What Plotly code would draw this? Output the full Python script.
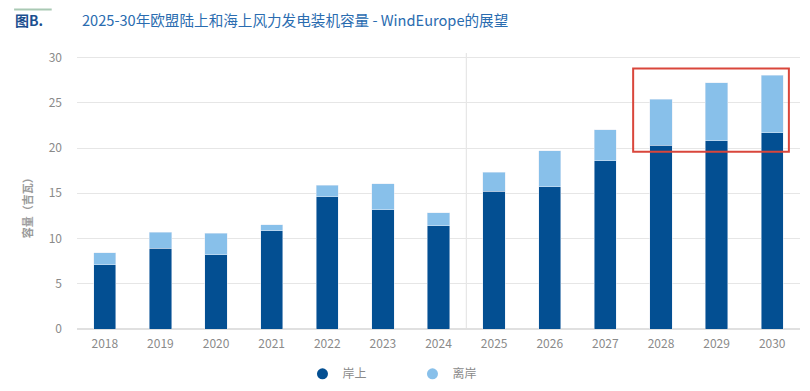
import plotly.graph_objects as go

years = ["2018", "2019", "2020", "2021", "2022", "2023", "2024",
         "2025", "2026", "2027", "2028", "2029", "2030"]
onshore = [7.1, 8.9, 8.2, 10.85, 14.6, 13.2, 11.4, 15.2, 15.7, 18.6, 20.3, 20.8, 21.7]
total = [8.4, 10.7, 10.6, 11.5, 15.9, 16.05, 12.85, 17.3, 19.7, 22.0, 25.4, 27.2, 28.05]
offshore = [round(t - o, 2) for t, o in zip(total, onshore)]
y_ticks = [0, 5, 10, 15, 20, 25, 30]

DARK = "#034f92"
LIGHT = "#88c0ea"
GRAY = "#8a8a8a"
FONT = "Noto Sans CJK SC"

fig = go.Figure()
fig.add_trace(go.Bar(x=years, y=onshore, name="岸上", marker_color=DARK,
                     width=0.4, showlegend=False))
fig.add_trace(go.Bar(x=years, y=offshore, name="离岸", marker_color=LIGHT,
                     width=0.4, showlegend=False))
# legend entries with circle markers
fig.add_trace(go.Scatter(x=[None], y=[None], mode="markers", name="岸上",
                         marker=dict(color=DARK, size=11, symbol="circle")))
fig.add_trace(go.Scatter(x=[None], y=[None], mode="markers", name="离岸",
                         marker=dict(color=LIGHT, size=11, symbol="circle")))

# separator between history and outlook
fig.add_shape(type="line", xref="x", yref="paper", x0=6.5, x1=6.5, y0=0, y1=1,
              line=dict(color="#e2e2e2", width=1), layer="below")
# red highlight box
fig.add_shape(type="rect", xref="x", yref="y", x0=9.5, x1=12.3, y0=19.6, y1=28.8,
              line=dict(color="#d9463b", width=2))
# top decorative line
fig.add_shape(type="line", xref="paper", yref="paper", x0=-0.087, x1=-0.035,
              y0=1.158, y1=1.158, line=dict(color="#a9c9b4", width=2))

fig.add_annotation(xref="paper", yref="paper", x=-0.089, y=1.121, xanchor="left",
                   yanchor="middle", showarrow=False,
                   text="<b>图B.</b>", font=dict(family=FONT, size=14, color="#1b4f8f"))
fig.add_annotation(xref="paper", yref="paper", x=0.004, y=1.121, xanchor="left",
                   yanchor="middle", showarrow=False,
                   text="2025-30年欧盟陆上和海上风力发电装机容量 - WindEurope的展望",
                   font=dict(family=FONT, size=14.6, color="#2a6cb0"))
fig.add_annotation(xref="paper", yref="paper", x=-0.068, y=0.448, xanchor="center",
                   yanchor="middle", showarrow=False, textangle=-90,
                   text="<b>容量（吉瓦）</b>", font=dict(family=FONT, size=11, color="#9a9a9a"))

fig.update_layout(
    width=802, height=383,
    barmode="stack",
    plot_bgcolor="white", paper_bgcolor="white",
    margin=dict(l=69, r=10, t=44.5, b=62.3, autoexpand=False),
    font=dict(family=FONT, color=GRAY, size=12),
    legend=dict(orientation="h", x=0.464, xanchor="center", yref="container",
                y=0.045, yanchor="middle", traceorder="normal",
                font=dict(size=12, color=GRAY), entrywidth=65),
    xaxis=dict(range=[-0.5, 12.5], showgrid=False, showline=False, ticks="",
               tickfont=dict(size=12, color=GRAY), ticklabelstandoff=6,
               automargin=False),
    yaxis=dict(range=[0, 30.5], tickvals=y_ticks, showgrid=True, gridcolor="#e6e6e6",
               gridwidth=1, zeroline=True, zerolinecolor="#e0e0e0", showline=False,
               tickfont=dict(size=12, color=GRAY), ticklabelstandoff=14,
               automargin=False),
)

fig.write_html("out.html")
